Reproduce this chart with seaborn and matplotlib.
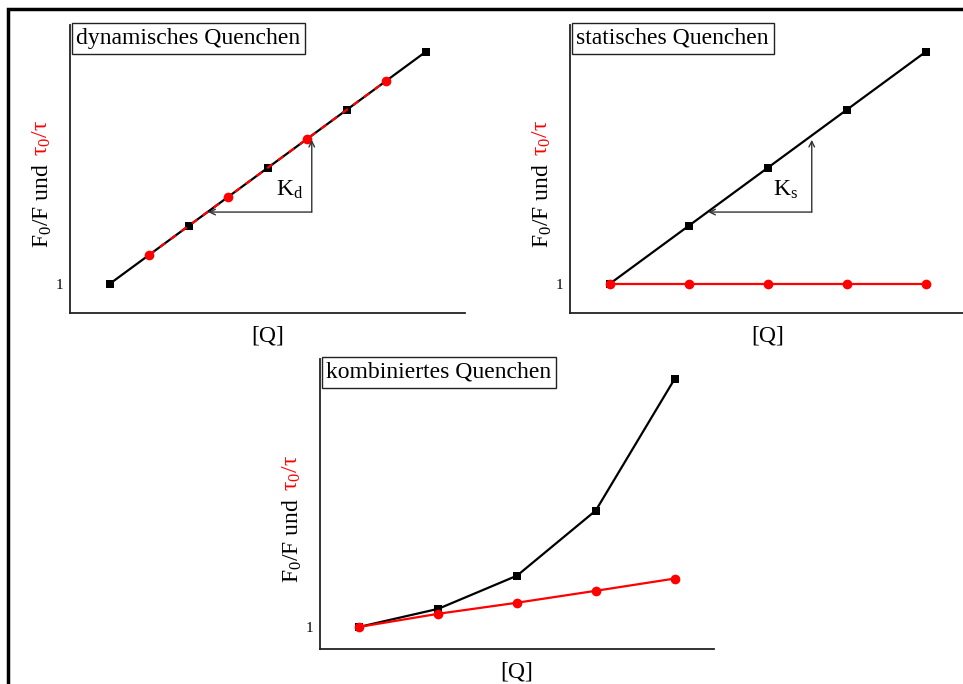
import matplotlib
matplotlib.use("Agg")
import matplotlib.pyplot as plt
from matplotlib.patches import Rectangle
import seaborn as sns

sns.set_style("white")
plt.rcParams['font.family'] = ['Liberation Serif', 'DejaVu Serif']
plt.rcParams['mathtext.fontset'] = 'custom'
plt.rcParams['mathtext.rm'] = 'Liberation Serif'
plt.rcParams['mathtext.it'] = 'Liberation Serif:italic'
plt.rcParams['text.color'] = 'black'
plt.rcParams['axes.labelcolor'] = 'black'
plt.rcParams['ytick.color'] = 'black'

# data
q_even = [0, 2, 4, 6, 8]
q_odd = [1, 3, 5, 7]
dyn_black = [1, 3, 5, 7, 9]
dyn_red = [2, 4, 6, 8]
stat_black = [1, 3, 5, 7, 9]
stat_red = [1, 1, 1, 1, 1]
komb_black = [1, 1.62, 2.76, 5.0, 9.52]
komb_red = [1, 1.45, 1.83, 2.24, 2.66]

titles = ["dynamisches Quenchen", "statisches Quenchen", "kombiniertes Quenchen"]
k_labels = ["K$_\\mathrm{d}$", "K$_\\mathrm{s}$"]

fig = plt.figure(figsize=(9.63, 6.84), dpi=100)
ax1 = fig.add_axes([0.0727, 0.5424, 0.4102, 0.4211])
ax2 = fig.add_axes([0.5919, 0.5424, 0.4102, 0.4211])
ax3 = fig.add_axes([0.3323, 0.0512, 0.4091, 0.4240])

# frame around the whole figure (only left and top visible)
fig.add_artist(Rectangle((8 / 963, -0.1), 1.2, 1.1 - 9 / 684, transform=fig.transFigure,
                         fill=False, ec='black', lw=2.5, clip_on=False))

sq = dict(marker='s', markersize=6, markeredgewidth=0, lw=1.6)
ci = dict(marker='o', markersize=7, markeredgewidth=0, lw=1.6)

# dynamisches Quenchen
sns.lineplot(x=q_even, y=dyn_black, color='black', ax=ax1, **sq)
sns.lineplot(x=q_odd, y=dyn_red, color='red', ax=ax1, linestyle=(0, (3, 3)), **ci)

# statisches Quenchen
sns.lineplot(x=q_even, y=stat_black, color='black', ax=ax2, **sq)
sns.lineplot(x=q_even, y=stat_red, color='red', ax=ax2, **ci)

# kombiniertes Quenchen
sns.lineplot(x=q_even, y=komb_black, color='black', ax=ax3, **sq)
sns.lineplot(x=q_even, y=komb_red, color='red', ax=ax3, **ci)

for ax in (ax1, ax2):
    ax.set_ylim(0, 9.93)
ax3.set_ylim(0.24, 10.21)

for ax, title in zip((ax1, ax2, ax3), titles):
    ax.set_xlim(-1, 9)
    ax.set_xticks([])
    ax.set_yticks([1])
    ax.set_yticklabels(['1'])
    ax.tick_params(axis='y', length=0, pad=5, labelsize=11)
    ax.set_xlabel('[Q]', fontsize=17, labelpad=9)
    ax.set_ylabel('')
    for s in ('top', 'right'):
        ax.spines[s].set_visible(False)
    for s in ('left', 'bottom'):
        ax.spines[s].set_color('#222222')
        ax.spines[s].set_linewidth(1.3)
    ax.text(0.016, 0.99, title, transform=ax.transAxes, ha='left', va='top', fontsize=17,
            bbox=dict(boxstyle='square,pad=0.2', fc='white', ec='#222222', lw=1), zorder=5)
    # y label, two colours
    ax.text(-0.071, 0.52, 'F$_0$/F und', transform=ax.transAxes, rotation=90,
            ha='center', va='top', fontsize=17, color='black')
    ax.text(-0.071, 0.545, '\u03c4$_0$/\u03c4', transform=ax.transAxes, rotation=90,
            ha='center', va='bottom', fontsize=17, color='red')

# slope triangles
corner = (5.12, 3.48)
for ax, lab, tipx, tipy, tx, ty in ((ax1, k_labels[0], 2.5, 5.97, 4.55, 4.25),
                                    (ax2, k_labels[1], 2.5, 5.97, 4.45, 4.25)):
    ax.annotate('', xy=(tipx, corner[1]), xytext=corner,
                arrowprops=dict(arrowstyle='->', lw=1, color='#333333', shrinkA=0, shrinkB=0))
    ax.annotate('', xy=(corner[0], tipy), xytext=corner,
                arrowprops=dict(arrowstyle='->', lw=1, color='#333333', shrinkA=0, shrinkB=0))
    ax.text(tx, ty, lab, fontsize=17, ha='center', va='center')

fig.savefig('out.png', dpi=100)
